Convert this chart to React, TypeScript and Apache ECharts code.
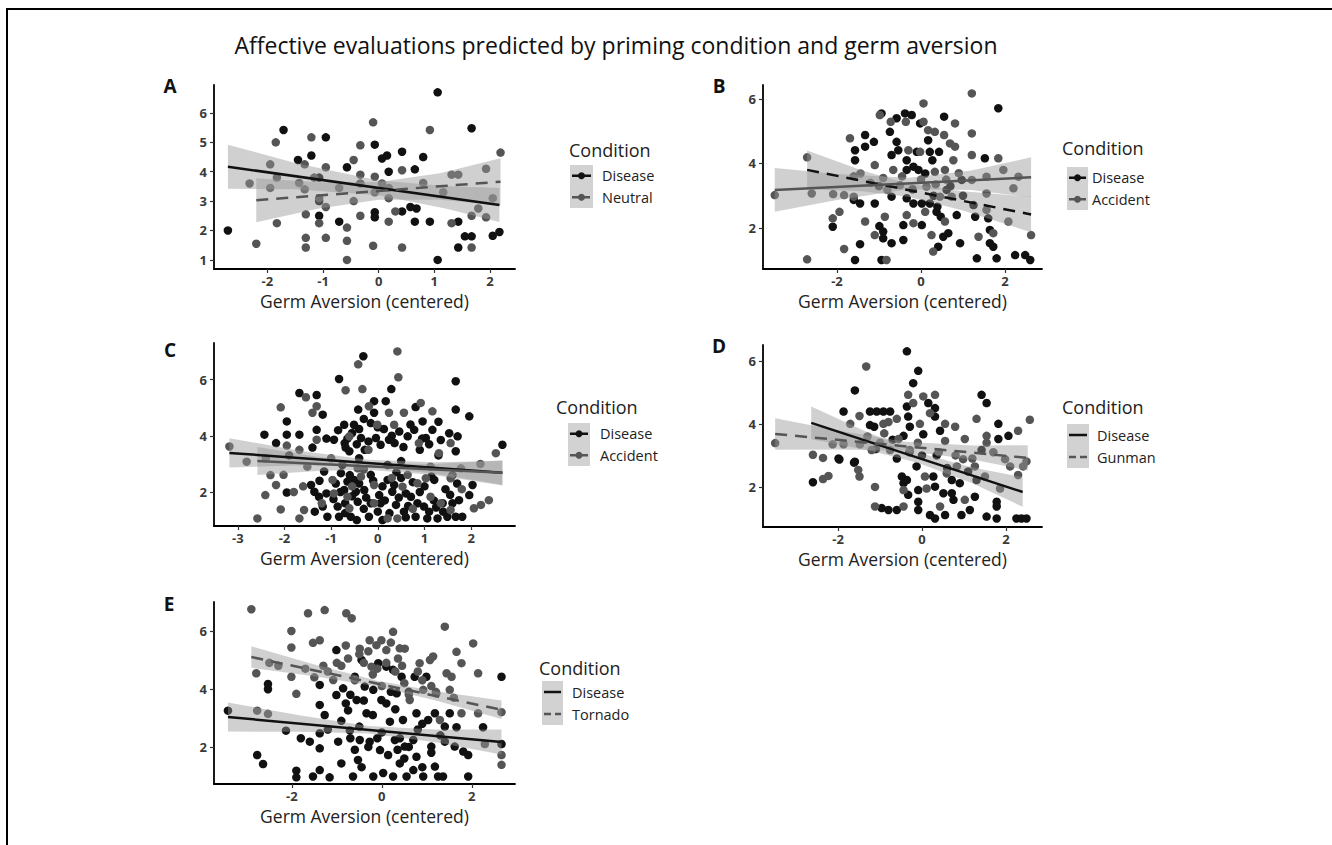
import React, { useEffect, useRef } from "react";
import * as echarts from "echarts";

const FONT = "'Open Sans', 'DejaVu Sans', sans-serif";
const BLACK = "#111111";
const GREY = "#555555";
const BAND = "rgba(150,150,150,0.45)";

const mainTitle = "Affective evaluations predicted by priming condition and germ aversion";
const xName = "Germ Aversion (centered)";
const legendTitle = "Condition";

// ---------- tick labels ----------
const ticksAx = [-2, -1, 0, 1, 2];
const ticksAy = [1, 2, 3, 4, 5, 6];
const ticksBx = [-2, 0, 2];
const ticksBy = [2, 4, 6];
const ticksCx = [-3, -2, -1, 0, 1, 2];
const ticksCy = [2, 4, 6];
const ticksDx = [-2, 0, 2];
const ticksDy = [2, 4, 6];
const ticksEx = [-2, 0, 2];
const ticksEy = [2, 4, 6];

// ---------- Panel A ----------
const aDisease = [[-2.71,2.0],[-1.71,5.42],[-1.45,4.4],[-1.21,4.55],[-1.07,3.8],[-1.07,2.5],[-1.07,3.0],[-0.95,5.17],[-0.71,2.3],[-0.57,4.15],[-0.07,4.92],[-0.07,2.62],[-0.07,2.45],[0.06,4.45],[0.15,4.55],[0.18,4.0],[0.42,4.68],[0.42,2.65],[0.57,2.8],[0.68,2.75],[0.65,4.08],[0.65,2.3],[0.8,4.5],[0.92,2.3],[1.06,6.7],[1.06,1.0],[1.43,2.3],[1.43,1.42],[1.67,5.48],[1.55,1.8],[1.67,1.8],[2.05,1.82],[2.17,1.95]];
const aNeutral = [[-2.32,3.6],[-2.2,1.55],[-1.95,4.25],[-1.95,3.45],[-1.85,5.0],[-1.83,3.8],[-1.83,2.25],[-1.43,3.62],[-1.33,4.25],[-1.33,3.4],[-1.31,2.55],[-1.31,1.75],[-1.31,1.42],[-1.21,5.17],[-1.16,3.8],[-1.07,3.1],[-1.07,2.25],[-0.95,4.15],[-0.95,2.8],[-0.95,1.75],[-0.71,3.45],[-0.57,2.1],[-0.57,1.65],[-0.57,1.0],[-0.45,4.4],[-0.45,3.0],[-0.33,4.9],[-0.33,3.9],[-0.33,2.5],[-0.33,3.6],[-0.1,5.68],[-0.07,3.83],[-0.07,3.3],[-0.1,1.48],[0.06,3.6],[0.18,3.45],[0.18,2.3],[0.18,3.1],[0.3,2.65],[0.42,4.05],[0.42,1.42],[0.8,3.62],[0.92,5.42],[1.16,3.3],[1.31,3.9],[1.43,3.9],[1.31,2.25],[1.67,2.5],[1.67,1.42],[1.79,2.75],[1.93,4.1],[1.93,2.45],[2.05,3.1],[2.19,4.65]];
const aDiseaseFit = [[-2.71,4.17],[2.17,2.87]];
const aDiseaseBandX = [-2.71,-1.5,0,1.2,2.17];
const aDiseaseBandLo = [3.42,3.40,3.20,2.75,2.29];
const aDiseaseBandHi = [4.92,4.30,3.70,3.51,3.45];
const aNeutralFit = [[-2.2,3.03],[2.19,3.66]];
const aNeutralBandX = [-2.2,-1.1,0,1.1,2.19];
const aNeutralBandLo = [2.28,2.74,3.05,3.05,2.86];
const aNeutralBandHi = [3.78,3.64,3.65,3.95,4.46];

// ---------- Panel B ----------
const bDisease = [[-2.10,2.04],[-1.60,2.87],[-1.57,1.01],[-1.57,4.10],[-1.57,4.41],[-1.45,1.50],[-1.45,2.76],[-1.33,4.88],[-1.33,4.52],[-1.12,4.67],[-1.10,2.76],[-0.99,2.06],[-0.94,5.55],[-0.94,1.01],[-0.90,1.89],[-0.90,1.68],[-0.74,4.98],[-0.70,4.26],[-0.70,2.97],[-0.70,1.53],[-0.58,5.40],[-0.58,4.67],[-0.54,4.41],[-0.42,2.09],[-0.42,1.63],[-0.38,5.55],[-0.34,4.10],[-0.34,3.80],[-0.34,2.92],[-0.22,5.50],[-0.18,3.90],[-0.18,2.76],[-0.10,4.36],[-0.06,3.80],[-0.02,5.24],[0.02,2.76],[0.02,2.09],[0.10,3.69],[0.17,4.72],[0.21,4.36],[0.21,2.76],[0.27,4.10],[0.37,2.50],[0.39,2.66],[0.41,1.42],[0.43,4.36],[0.47,2.35],[0.53,1.73],[0.55,5.45],[0.61,3.18],[0.65,1.84],[0.85,2.40],[0.93,1.53],[0.97,3.49],[1.25,2.71],[1.29,2.35],[1.33,1.06],[1.52,4.16],[1.60,2.30],[1.64,1.94],[1.64,1.53],[1.72,1.42],[1.80,1.06],[1.84,5.71],[2.24,1.16],[2.48,1.16],[2.60,1.01],[-1.0,3.3],[-0.2,3.2],[0.3,3.0],[0.7,3.3],[1.0,3.0]];
const bAccident = [[-3.48,3.02],[-2.71,4.19],[-2.71,1.03],[-2.60,3.07],[-2.10,2.30],[-2.09,3.05],[-1.94,2.50],[-1.83,3.02],[-1.83,1.35],[-1.69,4.78],[-1.60,2.97],[-1.44,3.69],[-1.33,2.20],[-1.10,3.95],[-1.10,1.78],[-0.98,5.50],[-0.86,2.35],[-0.82,1.01],[-0.80,3.18],[-0.72,5.29],[-0.66,3.80],[-0.50,3.33],[-0.36,5.29],[-0.34,2.40],[-0.30,4.41],[-0.18,2.15],[-0.02,4.36],[0.06,5.86],[0.06,5.29],[0.10,2.50],[0.13,3.28],[0.17,5.03],[0.25,1.78],[0.29,1.27],[0.33,4.98],[0.33,3.74],[0.45,2.97],[0.55,4.88],[0.57,3.80],[0.57,2.20],[0.69,4.62],[0.73,2.97],[0.77,4.10],[0.81,5.24],[0.81,4.52],[1.21,6.17],[1.21,4.93],[1.21,4.26],[1.21,3.49],[1.37,1.73],[1.56,3.59],[1.56,3.07],[1.56,2.56],[1.72,1.84],[1.84,4.16],[1.96,3.80],[2.08,2.20],[2.20,3.23],[2.32,3.59],[2.62,1.78],[-1.2,3.4],[-0.9,3.55],[-0.45,3.6],[0.0,3.5],[0.35,3.35],[0.9,3.7],[-1.6,3.6],[0.6,3.5]];
const bAccidentFit = [[-3.48,3.18],[2.62,3.57]];
const bAccidentBandX = [-3.48,-2.0,-0.3,1.2,2.62];
const bAccidentBandLo = [2.50,2.87,3.20,3.18,2.95];
const bAccidentBandHi = [3.86,3.67,3.56,3.78,4.19];
const bDiseaseFit = [[-2.71,3.8],[2.62,2.42]];
const bDiseaseBandX = [-2.71,-1.4,-0.3,1.0,2.62];
const bDiseaseBandLo = [3.20,3.14,2.97,2.54,1.87];
const bDiseaseBandHi = [4.40,3.78,3.37,3.14,2.97];

// ---------- Panel C ----------
const cDisease = [[-2.43,4.04],[-2.18,3.74],[-1.95,4.51],[-1.95,4.04],[-1.68,5.52],[-1.68,4.04],[-1.31,5.45],[-1.31,4.21],[-1.40,3.58],[-1.18,4.75],[-0.94,3.86],[-0.83,6.02],[-0.72,4.39],[-0.71,3.74],[-0.61,3.45],[-0.51,4.39],[-0.42,4.93],[-0.40,4.24],[-0.36,3.92],[-0.31,6.83],[-0.28,3.5],[-0.15,4.45],[-0.08,5.23],[-0.04,3.92],[0.06,3.68],[0.13,4.24],[0.17,5.23],[0.24,3.86],[0.29,5.66],[0.36,3.74],[0.46,4.15],[0.64,3.98],[0.78,4.21],[0.81,5.02],[0.96,4.51],[1.03,3.92],[1.17,4.21],[1.53,4.09],[1.67,5.94],[1.67,4.93],[1.71,3.98],[1.67,3.45],[1.96,4.69],[2.67,3.68],[-0.08,4.82],[-0.69,3.58],[-1.95,1.98],[-1.43,2.25],[-1.36,2.01],[-1.26,1.83],[-1.18,1.48],[-1.08,1.12],[-0.86,1.48],[-0.83,1.12],[-0.79,2.67],[-0.72,2.07],[-0.58,1.12],[-0.51,2.43],[-0.47,2.01],[-0.43,1.65],[-0.29,2.07],[-0.19,1.12],[-0.15,2.61],[0.03,1.89],[0.06,1.6],[0.21,2.43],[0.31,2.01],[0.39,1.54],[0.56,1.3],[0.71,1.83],[0.81,1.12],[0.99,1.48],[1.06,1.06],[1.28,1.06],[1.39,1.6],[1.49,1.12],[1.67,1.12],[1.74,1.71],[1.81,1.12],[1.96,1.89],[2.03,2.25],[1.21,2.43],[-0.76,2.96],[0.21,2.96],[-1.15,2.73],[-0.65,2.37],[-1.9,3.3],[-0.4,3.2],[0.5,3.1],[1.3,3.3],[0.9,3.5],[-0.9,2.3],[-0.55,1.85],[-0.3,1.4],[0.1,2.2],[0.45,1.8],[0.9,2.0],[1.2,1.7],[1.45,2.1],[-0.7,1.6],[0.65,1.5],[1.1,1.3],[-1.25,2.4],[0.25,1.25],[1.6,1.6],[-0.55,4.1],[-0.2,3.8],[0.0,4.3],[0.3,4.0],[-0.85,4.2],[0.55,3.6],[-0.45,3.7],[0.95,3.9],[1.35,3.85],[1.3,4.5],[-0.95,1.75],[-0.8,2.0],[-0.6,2.6],[-0.4,2.3],[-0.25,1.8],[-0.1,2.4],[0.0,1.3],[0.15,1.7],[0.35,2.25],[0.5,2.5],[0.6,1.95],[0.75,2.35],[0.85,1.6],[1.0,2.2],[1.15,2.55],[1.25,1.45],[1.4,1.3],[1.55,1.9],[1.7,2.3],[-1.1,1.95],[-1.35,1.3],[-0.7,1.25],[-0.45,1.0],[0.1,1.0],[0.6,1.1],[-0.15,1.6],[0.4,2.7],[1.6,2.6],[-1.1,3.9],[-0.3,4.6],[0.7,4.4],[1.1,3.7],[-0.65,3.9]];
const cAccident = [[-3.18,3.62],[-2.81,3.08],[-2.08,5.01],[-1.95,3.65],[-1.68,3.5],[-1.54,5.37],[-1.40,4.82],[-1.31,5.05],[-1.31,3.86],[-0.69,5.62],[-0.61,3.98],[-0.42,6.54],[-0.33,5.66],[-0.19,5.05],[-0.01,4.39],[0.24,4.82],[0.35,4.39],[0.42,7.0],[0.44,6.08],[0.56,4.82],[0.92,5.17],[1.17,4.87],[1.31,3.38],[1.56,3.74],[2.53,3.38],[0.88,3.74],[-2.58,1.06],[-2.41,1.89],[-2.18,2.25],[-2.08,1.38],[-2.02,2.61],[-1.68,1.06],[-1.58,1.36],[-0.97,2.43],[-0.94,1.95],[-0.65,1.83],[-0.61,1.42],[-0.36,2.55],[-0.08,2.25],[0.21,1.06],[0.42,1.06],[0.53,2.19],[0.64,2.61],[0.85,2.31],[1.03,2.49],[1.13,1.83],[1.56,1.36],[2.06,1.42],[2.21,1.54],[2.38,1.71],[1.56,2.49],[-0.43,2.84],[1.13,2.9],[1.78,2.84],[-1.51,2.9],[-0.08,1.6],[-2.4,3.2],[-1.0,3.2],[2.2,3.0],[-0.2,3.5],[-1.6,2.2],[-1.2,1.6],[-0.3,2.8],[0.3,2.5],[1.8,2.1],[-2.3,2.6],[-1.8,2.0],[0.75,1.4],[1.35,1.6],[-0.55,2.2]];
const cDiseaseFit = [[-3.18,3.39],[2.67,2.68]];
const cDiseaseBandX = [-3.18,-1.6,-0.2,1.2,2.67];
const cDiseaseBandLo = [2.87,2.95,2.91,2.66,2.26];
const cDiseaseBandHi = [3.91,3.45,3.15,3.06,3.10];
const cAccidentFit = [[-2.58,3.1],[2.67,2.68]];
const cAccidentBandX = [-2.58,-1.3,-0.2,1.2,2.67];
const cAccidentBandLo = [2.60,2.75,2.79,2.60,2.23];
const cAccidentBandHi = [3.60,3.25,3.03,3.00,3.13];

// ---------- Panel D ----------
const dDisease = [[-1.99,2.9],[-1.87,4.39],[-1.60,5.06],[-1.60,2.8],[-1.24,4.39],[-1.24,3.96],[-1.14,3.91],[-1.08,4.39],[-0.92,4.39],[-0.76,4.39],[-0.44,3.62],[-0.36,6.3],[-0.36,4.55],[-0.33,4.23],[-0.29,3.91],[-0.21,5.29],[-0.09,5.68],[0.03,3.67],[0.15,4.66],[0.31,4.5],[0.31,4.23],[0.43,3.78],[1.42,4.92],[1.54,4.66],[1.82,4.0],[1.82,3.52],[2.06,3.62],[-2.60,2.15],[-1.97,2.87],[-1.62,2.77],[-0.96,1.33],[-0.80,1.27],[-0.60,1.27],[-0.48,2.33],[-0.44,2.12],[-0.36,2.22],[-0.33,1.75],[-0.13,2.65],[-0.09,1.9],[-0.09,1.53],[-0.09,1.27],[0.19,1.11],[0.27,2.33],[0.31,2.01],[0.31,1.0],[0.55,1.11],[0.51,1.8],[0.71,2.22],[0.71,1.8],[0.75,1.59],[0.90,2.12],[0.94,1.11],[1.10,2.49],[1.14,1.27],[1.26,1.69],[1.30,2.22],[1.54,1.06],[1.78,1.53],[1.78,1.38],[1.78,1.0],[2.25,1.0],[2.37,1.0],[2.49,1.0],[1.42,3.17],[0.35,3.0],[-0.7,3.5],[-0.3,3.1],[-0.6,2.9],[0.0,3.0],[0.6,2.6],[-1.1,3.2]];
const dGunman = [[-3.5,3.39],[-2.60,3.02],[-2.36,2.92],[-2.13,3.35],[-1.49,4.25],[-1.71,4.0],[-1.48,3.35],[-1.33,5.82],[-0.92,4.0],[-0.80,4.06],[-0.60,4.16],[-0.56,3.52],[-0.33,4.92],[-0.21,4.66],[-0.05,4.0],[0.03,4.87],[0.19,4.34],[0.31,4.92],[0.55,4.0],[0.55,3.46],[0.79,3.91],[1.02,3.52],[1.30,4.16],[1.54,3.62],[1.54,3.4],[2.29,3.78],[2.57,4.13],[-1.87,3.35],[-2.36,2.25],[-2.23,2.35],[-1.52,2.54],[-1.49,2.33],[-1.20,3.17],[-1.12,2.0],[-1.12,1.38],[-0.44,1.38],[-0.44,1.9],[0.07,2.33],[0.11,1.95],[0.43,1.38],[0.59,2.43],[0.83,2.65],[1.02,1.59],[1.26,2.65],[1.50,2.33],[1.86,1.95],[1.98,2.88],[2.10,2.65],[2.29,2.38],[2.41,2.65],[2.49,2.81],[-0.76,3.17],[-0.29,3.17],[0.98,2.88],[-1.0,3.4],[0.4,3.1],[0.8,3.0],[1.2,2.9],[-1.3,3.6],[-0.1,3.4],[-0.9,3.7],[1.7,3.1]];
const dDiseaseFit = [[-2.64,4.03],[2.4,1.84]];
const dDiseaseBandX = [-2.64,-1.3,-0.1,1.2,2.4];
const dDiseaseBandLo = [3.51,3.17,2.77,2.12,1.37];
const dDiseaseBandHi = [4.55,3.73,3.09,2.62,2.31];
const dGunmanFit = [[-3.5,3.68],[2.52,2.92]];
const dGunmanBandX = [-3.5,-2.0,-0.4,1.2,2.52];
const dGunmanBandLo = [3.18,3.19,3.15,2.87,2.52];
const dGunmanBandHi = [4.18,3.79,3.43,3.31,3.32];

// ---------- Panel E ----------
const eDisease = [[-3.42,3.25],[-2.77,1.72],[-2.64,1.41],[-2.53,4.17],[-2.53,3.99],[-2.13,2.56],[-1.90,1.18],[-1.90,0.95],[-1.60,2.18],[-1.53,0.98],[-1.38,4.14],[-1.38,3.45],[-1.38,2.47],[-1.38,1.95],[-1.38,1.2],[-1.27,3.1],[-1.16,0.95],[-1.01,5.34],[-1.01,3.79],[-0.97,2.18],[-0.90,1.43],[-0.86,4.02],[-0.75,3.26],[-0.71,2.57],[-0.64,0.98],[-0.60,4.42],[-0.56,3.62],[-0.53,1.55],[-0.49,2.24],[-0.45,5.0],[-0.38,4.08],[-0.34,3.16],[-0.27,2.18],[-0.19,3.97],[-0.19,0.98],[-0.08,4.89],[-0.04,1.89],[-0.01,3.62],[0.03,1.1],[0.10,4.77],[0.14,1.72],[0.18,2.87],[0.25,4.66],[0.25,0.98],[0.29,2.24],[0.33,3.85],[0.40,1.43],[0.44,4.42],[0.47,2.93],[0.51,2.01],[0.55,0.98],[0.70,2.24],[0.73,4.42],[0.77,1.66],[0.77,3.16],[0.92,0.98],[0.99,4.42],[1.03,2.93],[1.10,2.01],[1.18,3.16],[1.18,1.32],[1.25,0.98],[1.36,0.98],[1.40,2.18],[1.51,3.16],[1.62,2.01],[1.66,2.68],[1.81,1.84],[1.92,0.98],[1.92,1.72],[2.25,2.68],[2.66,4.42],[2.66,2.1],[-0.5,2.7],[0.0,2.5],[0.4,2.3],[0.8,2.6],[-0.9,2.9],[1.4,2.7],[-0.2,3.1],[0.3,3.3],[-1.2,2.6],[-1.8,2.3],[-0.7,3.8],[0.1,3.5],[0.6,3.9],[-0.3,2.0],[0.5,1.6],[1.1,1.8],[-0.6,1.9],[0.9,1.3],[-0.8,3.5],[-0.4,3.6],[0.2,3.9],[-0.1,2.3],[0.6,2.0],[0.9,2.8],[-0.7,2.3],[1.3,2.4],[0.35,1.9],[-0.45,1.3],[0.7,1.2]];
const eTornado = [[-2.90,6.75],[-2.79,4.54],[-2.77,3.25],[-2.53,3.14],[-2.01,6.0],[-2.01,5.43],[-2.01,4.42],[-1.90,3.83],[-1.64,6.61],[-1.53,5.59],[-1.38,5.68],[-1.27,6.72],[-1.08,4.31],[-0.79,6.61],[-0.75,5.05],[-0.67,6.44],[-0.49,5.39],[-0.27,5.68],[-0.23,4.77],[-0.12,5.51],[-0.01,5.68],[0.10,5.34],[0.25,5.97],[0.36,5.05],[0.51,5.39],[0.62,3.62],[0.84,4.89],[0.92,3.97],[1.07,5.0],[1.14,5.12],[1.21,3.85],[1.29,2.93],[1.40,6.15],[1.44,4.54],[1.51,3.97],[1.55,4.42],[1.66,5.28],[1.77,4.89],[1.77,3.16],[2.03,5.57],[2.14,4.54],[2.14,3.16],[2.29,2.1],[2.66,3.2],[2.66,1.72],[2.66,1.38],[-1.7,4.7],[-1.2,4.6],[-0.9,4.8],[-0.6,4.3],[-0.2,4.5],[0.3,4.6],[0.5,4.2],[0.9,4.3],[1.2,3.9],[1.6,3.7],[-1.0,4.9],[0.1,4.9],[-2.3,4.8],[-2.5,4.9],[-0.4,4.9],[0.6,3.8],[-0.5,5.2],[0.4,5.4],[-1.5,4.4],[0.0,4.1],[-0.3,5.3],[0.2,5.6],[-0.8,5.5],[0.8,4.6],[1.1,4.1],[-1.3,4.8],[-0.1,4.7],[0.45,4.8]];
const eDiseaseFit = [[-3.42,3.03],[2.66,2.17]];
const eDiseaseBandX = [-3.42,-1.8,-0.3,1.2,2.66];
const eDiseaseBandLo = [2.53,2.52,2.46,2.16,1.74];
const eDiseaseBandHi = [3.53,3.08,2.72,2.60,2.60];
const eTornadoFit = [[-2.9,5.1],[2.66,3.28]];
const eTornadoBandX = [-2.9,-1.5,-0.1,1.2,2.66];
const eTornadoBandLo = [4.73,4.44,4.08,3.60,2.96];
const eTornadoBandHi = [5.47,4.84,4.28,3.92,3.60];

// ---------- layout (not data) ----------
const panels = [
  { letter: "A", grid: { left: 214, top: 85, width: 301, height: 184 }, xr: [-2.96, 2.45], yr: [0.69, 6.95], tx: ticksAx, ty: ticksAy,
    letterPos: [170, 86], legend: { x: 569, y: 150, box: [570, 165, 23, 43], lx: 602, points: true },
    groups: [
      { name: "Disease", pts: aDisease, color: BLACK, fit: aDiseaseFit, dash: "solid", bx: aDiseaseBandX, lo: aDiseaseBandLo, hi: aDiseaseBandHi },
      { name: "Neutral", pts: aNeutral, color: GREY, fit: aNeutralFit, dash: [12, 8], bx: aNeutralBandX, lo: aNeutralBandLo, hi: aNeutralBandHi },
    ] },
  { letter: "B", grid: { left: 763, top: 85, width: 279, height: 184 }, xr: [-3.76, 2.88], yr: [0.73, 6.43], tx: ticksBx, ty: ticksBy,
    letterPos: [719, 86], legend: { x: 1062, y: 148, box: [1067, 167, 21, 43], lx: 1092, points: true },
    groups: [
      { name: "Disease", pts: bDisease, color: BLACK, fit: bDiseaseFit, dash: [12, 8], bx: bDiseaseBandX, lo: bDiseaseBandLo, hi: bDiseaseBandHi },
      { name: "Accident", pts: bAccident, color: GREY, fit: bAccidentFit, dash: "solid", bx: bAccidentBandX, lo: bAccidentBandLo, hi: bAccidentBandHi },
    ] },
  { letter: "C", grid: { left: 214, top: 343, width: 301, height: 183 }, xr: [-3.51, 2.94], yr: [0.79, 7.3], tx: ticksCx, ty: ticksCy,
    letterPos: [170, 350], legend: { x: 556, y: 407, box: [568, 423, 22, 43], lx: 600, points: true },
    groups: [
      { name: "Disease", pts: cDisease, color: BLACK, fit: cDiseaseFit, dash: "solid", bx: cDiseaseBandX, lo: cDiseaseBandLo, hi: cDiseaseBandHi },
      { name: "Accident", pts: cAccident, color: GREY, fit: cAccidentFit, dash: "solid", bx: cAccidentBandX, lo: cAccidentBandLo, hi: cAccidentBandHi },
    ] },
  { letter: "D", grid: { left: 763, top: 345, width: 279, height: 182 }, xr: [-3.79, 2.86], yr: [0.73, 6.5], tx: ticksDx, ty: ticksDy,
    letterPos: [719, 346], legend: { x: 1062, y: 407, box: [1067, 424, 22, 44], lx: 1097, points: false },
    groups: [
      { name: "Disease", pts: dDisease, color: BLACK, fit: dDiseaseFit, dash: "solid", bx: dDiseaseBandX, lo: dDiseaseBandLo, hi: dDiseaseBandHi },
      { name: "Gunman", pts: dGunman, color: GREY, fit: dGunmanFit, dash: [12, 8], bx: dGunmanBandX, lo: dGunmanBandLo, hi: dGunmanBandHi },
    ] },
  { letter: "E", grid: { left: 214, top: 602, width: 301, height: 182 }, xr: [-3.73, 2.96], yr: [0.72, 7.0], tx: ticksEx, ty: ticksEy,
    letterPos: [169, 604], legend: { x: 539, y: 668, box: [542, 681, 21, 44], lx: 572, points: false },
    groups: [
      { name: "Disease", pts: eDisease, color: BLACK, fit: eDiseaseFit, dash: "solid", bx: eDiseaseBandX, lo: eDiseaseBandLo, hi: eDiseaseBandHi },
      { name: "Tornado", pts: eTornado, color: GREY, fit: eTornadoFit, dash: [12, 8], bx: eTornadoBandX, lo: eTornadoBandLo, hi: eTornadoBandHi },
    ] },
];

function buildOption() {
  const grid: any[] = [];
  const xAxis: any[] = [];
  const yAxis: any[] = [];
  const series: any[] = [];
  const graphic: any[] = [];

  graphic.push({ type: "line", shape: { x1: 6, y1: 9, x2: 1332, y2: 9 }, style: { stroke: "#000", lineWidth: 2 }, silent: true });
  graphic.push({ type: "line", shape: { x1: 7, y1: 9, x2: 7, y2: 845 }, style: { stroke: "#000", lineWidth: 2 }, silent: true });
  graphic.push({ type: "text", x: 616, y: 45, style: { text: mainTitle, fontFamily: FONT, fontSize: 23, fill: "#111", textAlign: "center", textVerticalAlign: "middle" }, silent: true });

  panels.forEach((p, i) => {
    grid.push({ ...p.grid, containLabel: false });
    xAxis.push({
      gridIndex: i, type: "value", min: p.xr[0], max: p.xr[1],
      axisLine: { show: true, onZero: false, lineStyle: { color: "#000", width: 1.8 } },
      axisTick: { show: true, length: 4, customValues: p.tx, lineStyle: { color: "#333", width: 1.2 } },
      axisLabel: { customValues: p.tx, color: "#3a3a3a", fontSize: 13, fontWeight: "bold", fontFamily: FONT, margin: 4, lineHeight: 15 },
      splitLine: { show: false },
      name: xName, nameLocation: "middle", nameGap: 22,
      nameTextStyle: { fontSize: 17.5, color: "#222", fontFamily: FONT, verticalAlign: "top", lineHeight: 20 },
    });
    yAxis.push({
      gridIndex: i, type: "value", min: p.yr[0], max: p.yr[1],
      axisLine: { show: true, onZero: false, lineStyle: { color: "#000", width: 1.8 } },
      axisTick: { show: true, length: 4, customValues: p.ty, lineStyle: { color: "#333", width: 1.2 } },
      axisLabel: { customValues: p.ty, color: "#3a3a3a", fontSize: 13, fontWeight: "bold", fontFamily: FONT, margin: 7 },
      splitLine: { show: false },
    });
    p.groups.forEach((g) => {
      series.push({
        type: "scatter", name: g.name, xAxisIndex: i, yAxisIndex: i, data: g.pts,
        symbolSize: 8.5, itemStyle: { color: g.color, opacity: 1 }, z: 2, silent: true,
      });
    });
    p.groups.forEach((g) => {
      const bx = g.bx, lo = g.lo, hi = g.hi;
      series.push({
        type: "custom", xAxisIndex: i, yAxisIndex: i, z: 3, silent: true,
        data: [[bx[0], lo[0]]],
        renderItem: (params: any, api: any) => {
          const pts: number[][] = [];
          for (let k = 0; k < bx.length; k++) pts.push(api.coord([bx[k], hi[k]]));
          for (let k = bx.length - 1; k >= 0; k--) pts.push(api.coord([bx[k], lo[k]]));
          return { type: "polygon", shape: { points: pts }, style: { fill: BAND } };
        },
      });
    });
    p.groups.forEach((g) => {
      series.push({
        type: "line", xAxisIndex: i, yAxisIndex: i, data: g.fit, symbol: "none", z: 4, silent: true,
        lineStyle: { color: g.color, width: 2.5, type: g.dash },
      });
    });

    // panel letter
    graphic.push({ type: "text", x: p.letterPos[0], y: p.letterPos[1], style: { text: p.letter, fontFamily: FONT, fontSize: 19, fontWeight: "bold", fill: "#111", textAlign: "center", textVerticalAlign: "middle" }, silent: true });
    // legend
    const L = p.legend;
    graphic.push({ type: "text", x: L.x, y: L.y, style: { text: legendTitle, fontFamily: FONT, fontSize: 18, fill: "#222", textAlign: "left", textVerticalAlign: "middle" }, silent: true });
    const [bx0, by0, bw, bh] = L.box;
    graphic.push({ type: "rect", shape: { x: bx0, y: by0, width: bw, height: bh }, style: { fill: "#d2d2d2" }, silent: true });
    p.groups.forEach((g, k) => {
      const cy = by0 + bh * (k + 0.5) / 2;
      graphic.push({ type: "line", shape: { x1: bx0 + 2, y1: cy, x2: bx0 + bw - 2, y2: cy }, style: { stroke: g.color, lineWidth: 2.5, lineDash: g.dash === "solid" ? null : [7, 4] }, silent: true });
      if (L.points) graphic.push({ type: "circle", shape: { cx: bx0 + bw / 2, cy, r: 3.5 }, style: { fill: g.color }, silent: true });
      graphic.push({ type: "text", x: L.lx, y: cy, style: { text: g.name, fontFamily: FONT, fontSize: 14.5, fill: "#222", textAlign: "left", textVerticalAlign: "middle" }, silent: true });
    });
  });

  return { animation: false, backgroundColor: "#fff", grid, xAxis, yAxis, series, graphic };
}

export default function App() {
  const ref = useRef<HTMLDivElement>(null);
  useEffect(() => {
    if (!ref.current) return;
    const chart = echarts.init(ref.current, undefined, { renderer: "svg" });
    chart.setOption(buildOption() as any);
    return () => chart.dispose();
  }, []);
  return <div ref={ref} style={{ position: "absolute", left: 0, top: 0, width: 1332, height: 845 }} />;
}
